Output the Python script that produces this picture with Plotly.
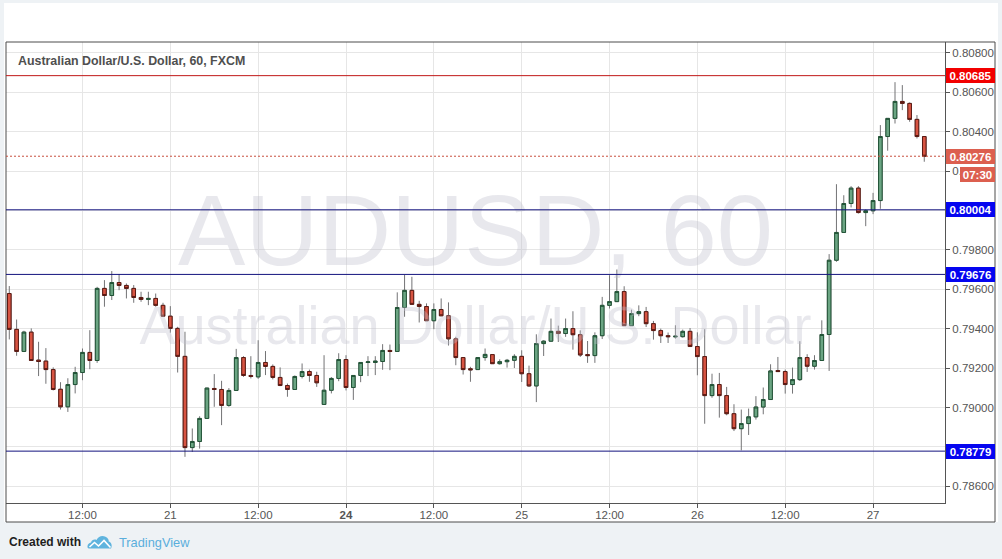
import plotly.graph_objects as go

# ---------------- data (hourly AUD/USD, FXCM) ----------------
bar_index = list(range(126))
open_ = [0.79579, 0.79397, 0.79285, 0.79383, 0.79241, 0.79236, 0.79193, 0.79093, 0.79004, 0.79117,
         0.79178, 0.79280, 0.79239, 0.79605, 0.79569, 0.79635, 0.79620, 0.79605, 0.79559, 0.79549,
         0.79554, 0.79519, 0.79464, 0.79402, 0.79260, 0.78797, 0.78828, 0.78945, 0.79097, 0.79092,
         0.79011, 0.79087, 0.79254, 0.79163, 0.79156, 0.79229, 0.79209, 0.79153, 0.79112, 0.79092,
         0.79158, 0.79183, 0.79163, 0.79016, 0.79088, 0.79148, 0.79244, 0.79102, 0.79163, 0.79229,
         0.79229, 0.79234, 0.79290, 0.79285, 0.79508, 0.79595, 0.79524, 0.79513, 0.79441, 0.79498,
         0.79466, 0.79349, 0.79254, 0.79197, 0.79193, 0.79254, 0.79269, 0.79223, 0.79233, 0.79240,
         0.79260, 0.79172, 0.79110, 0.79325, 0.79337, 0.79387, 0.79376, 0.79401, 0.79370, 0.79269,
         0.79264, 0.79365, 0.79519, 0.79538, 0.79589, 0.79416, 0.79477, 0.79487, 0.79426, 0.79391,
         0.79365, 0.79359, 0.79360, 0.79387, 0.79310, 0.79259, 0.79061, 0.79117, 0.79061, 0.78969,
         0.78893, 0.78919, 0.78953, 0.79003, 0.79041, 0.79188, 0.79183, 0.79117, 0.79142, 0.79254,
         0.79210, 0.79239, 0.79371, 0.79748, 0.79889, 0.80036, 0.80114, 0.79990, 0.79999, 0.80051,
         0.80376, 0.80468, 0.80554, 0.80544, 0.80463, 0.80376]
high = [0.79617, 0.79447, 0.79390, 0.79402, 0.79334, 0.79302, 0.79204, 0.79129, 0.79149, 0.79207,
        0.79300, 0.79393, 0.79613, 0.79647, 0.79693, 0.79678, 0.79630, 0.79622, 0.79588, 0.79588,
        0.79579, 0.79532, 0.79515, 0.79410, 0.79385, 0.78894, 0.78956, 0.79100, 0.79170, 0.79136,
        0.79099, 0.79298, 0.79261, 0.79261, 0.79342, 0.79287, 0.79219, 0.79204, 0.79122, 0.79163,
        0.79224, 0.79193, 0.79182, 0.79266, 0.79155, 0.79276, 0.79266, 0.79163, 0.79229, 0.79261,
        0.79261, 0.79322, 0.79320, 0.79585, 0.79673, 0.79664, 0.79542, 0.79529, 0.79529, 0.79554,
        0.79534, 0.79359, 0.79254, 0.79207, 0.79254, 0.79300, 0.79269, 0.79245, 0.79247, 0.79271,
        0.79291, 0.79213, 0.79372, 0.79342, 0.79452, 0.79416, 0.79452, 0.79489, 0.79392, 0.79338,
        0.79382, 0.79562, 0.79672, 0.79701, 0.79616, 0.79497, 0.79519, 0.79511, 0.79440, 0.79401,
        0.79381, 0.79418, 0.79396, 0.79404, 0.79382, 0.79398, 0.79172, 0.79176, 0.79105, 0.79017,
        0.78990, 0.78995, 0.79058, 0.79102, 0.79220, 0.79257, 0.79193, 0.79203, 0.79337, 0.79271,
        0.79266, 0.79443, 0.79779, 0.80134, 0.80078, 0.80124, 0.80124, 0.80006, 0.80090, 0.80434,
        0.80468, 0.80652, 0.80637, 0.80549, 0.80485, 0.80376]
low = [0.79346, 0.79263, 0.79282, 0.79239, 0.79160, 0.79121, 0.79087, 0.78990, 0.78978, 0.79072,
       0.79139, 0.79195, 0.79227, 0.79512, 0.79546, 0.79596, 0.79554, 0.79532, 0.79537, 0.79520,
       0.79512, 0.79461, 0.79380, 0.79178, 0.78750, 0.78775, 0.78792, 0.78944, 0.79004, 0.78911,
       0.79004, 0.79087, 0.79156, 0.79148, 0.79146, 0.79165, 0.79143, 0.79109, 0.79055, 0.79092,
       0.79148, 0.79131, 0.79105, 0.79016, 0.79072, 0.79134, 0.79087, 0.79039, 0.79129, 0.79160,
       0.79165, 0.79192, 0.79190, 0.79285, 0.79461, 0.79524, 0.79432, 0.79441, 0.79398, 0.79466,
       0.79315, 0.79215, 0.79168, 0.79131, 0.79193, 0.79238, 0.79223, 0.79218, 0.79203, 0.79201,
       0.79130, 0.79105, 0.79028, 0.79262, 0.79335, 0.79333, 0.79359, 0.79294, 0.79257, 0.79227,
       0.79227, 0.79348, 0.79503, 0.79536, 0.79416, 0.79416, 0.79464, 0.79409, 0.79345, 0.79328,
       0.79328, 0.79350, 0.79355, 0.79310, 0.79164, 0.78918, 0.79050, 0.78949, 0.78961, 0.78881,
       0.78783, 0.78861, 0.78939, 0.78966, 0.79041, 0.79183, 0.79071, 0.79071, 0.79135, 0.79181,
       0.79193, 0.79239, 0.79186, 0.79740, 0.79889, 0.80016, 0.79985, 0.79921, 0.79982, 0.80009,
       0.80304, 0.80442, 0.80510, 0.80451, 0.80366, 0.80248]
close = [0.79397, 0.79285, 0.79383, 0.79239, 0.79234, 0.79193, 0.79092, 0.79004, 0.79117, 0.79178,
         0.79280, 0.79239, 0.79605, 0.79569, 0.79635, 0.79620, 0.79605, 0.79559, 0.79549, 0.79554,
         0.79519, 0.79464, 0.79402, 0.79260, 0.78797, 0.78828, 0.78945, 0.79099, 0.79092, 0.79011,
         0.79087, 0.79254, 0.79163, 0.79158, 0.79229, 0.79209, 0.79153, 0.79112, 0.79092, 0.79158,
         0.79183, 0.79163, 0.79126, 0.79088, 0.79148, 0.79244, 0.79102, 0.79163, 0.79229, 0.79232,
         0.79236, 0.79290, 0.79285, 0.79508, 0.79595, 0.79524, 0.79513, 0.79441, 0.79498, 0.79466,
         0.79349, 0.79254, 0.79193, 0.79192, 0.79254, 0.79270, 0.79223, 0.79233, 0.79240, 0.79260,
         0.79172, 0.79110, 0.79325, 0.79337, 0.79387, 0.79376, 0.79401, 0.79370, 0.79267, 0.79264,
         0.79365, 0.79519, 0.79538, 0.79589, 0.79416, 0.79477, 0.79487, 0.79426, 0.79391, 0.79365,
         0.79360, 0.79362, 0.79387, 0.79310, 0.79259, 0.79061, 0.79117, 0.79061, 0.78969, 0.78893,
         0.78919, 0.78953, 0.79003, 0.79041, 0.79186, 0.79183, 0.79117, 0.79142, 0.79254, 0.79210,
         0.79239, 0.79371, 0.79748, 0.79889, 0.80036, 0.80114, 0.79990, 0.79999, 0.80051, 0.80376,
         0.80468, 0.80554, 0.80544, 0.80463, 0.80376, 0.80276]

tick_index = [10, 22, 34, 46, 58, 70, 82, 94, 106, 118]
tick_text = ["12:00", "21", "12:00", "<b>24</b>", "12:00", "25", "12:00", "26", "12:00", "27"]

price_ticks = [0.786, 0.788, 0.790, 0.792, 0.794, 0.796, 0.798, 0.800, 0.802, 0.804, 0.806, 0.808]
# labels hidden by the level boxes are left blank, as on the original
price_tick_text = ["0.78600", "", "0.79000", "0.79200", "0.79400", "0.79600", "0.79800", "",
                   "0.80200", "0.80400", "0.80600", "0.80800"]

resistance_levels = [0.80685]
support_levels = [0.80004, 0.79676, 0.78779]
last_price = 0.80276
countdown = "07:30"

title_text = "Australian Dollar/U.S. Dollar, 60, FXCM"
watermark_big = "AUDUSD, 60"
watermark_small = "Australian Dollar/U.S. Dollar"

# ---------------- style ----------------
W, H = 1002, 559
ML, MR, MT, MB = 6, 57, 42, 56
PW, PH = W - ML - MR, H - MT - MB
X_RANGE = [-0.45, 127.83]
Y_RANGE = [0.785157, 0.808558]

UP, DOWN = "#6ba583", "#d75442"
UP_BORDER, DOWN_BORDER = "#225437", "#5b1a13"
WICK = "#737375"
GRID = "#e6e6e6"
AXIS = "#555555"
FONT = "Liberation Sans, Arial, sans-serif"
PAGE_BG = "#eef2f5"


def px2x(px):
    return (px - ML) / PW


def py2y(py):
    return (MT + PH - py) / PH


def price_at(py):
    return Y_RANGE[1] - (py - MT) / PH * (Y_RANGE[1] - Y_RANGE[0])


fig = go.Figure()

# watermark (under the candles)
xmid = sum(X_RANGE) / 2
fig.add_trace(go.Scatter(
    x=[xmid, xmid], y=[price_at(240), price_at(330)], mode="text",
    text=[watermark_big, watermark_small], textposition="middle center",
    textfont=dict(size=[101, 54], color="rgba(190,190,205,0.36)", family=FONT),
    hoverinfo="skip", showlegend=False, cliponaxis=False))

# wicks (full range) in grey
fig.add_trace(go.Candlestick(
    x=bar_index, open=open_, high=high, low=low, close=close,
    increasing=dict(line=dict(color=WICK, width=1), fillcolor=UP),
    decreasing=dict(line=dict(color=WICK, width=1), fillcolor=DOWN),
    whiskerwidth=0, hoverinfo="skip", showlegend=False))

# bodies with dark borders
body_hi = [max(a, b) for a, b in zip(open_, close)]
body_lo = [min(a, b) for a, b in zip(open_, close)]
fig.add_trace(go.Candlestick(
    x=bar_index, open=open_, high=body_hi, low=body_lo, close=close,
    increasing=dict(line=dict(color=UP_BORDER, width=1), fillcolor=UP),
    decreasing=dict(line=dict(color=DOWN_BORDER, width=1), fillcolor=DOWN),
    whiskerwidth=0, hoverinfo="skip", showlegend=False))

shapes = []
# white card + frame
shapes.append(dict(type="rect", xref="paper", yref="paper", layer="below",
                   x0=px2x(4), x1=px2x(998), y0=py2y(522), y1=py2y(3),
                   fillcolor="white", line=dict(width=0)))
shapes.append(dict(type="rect", xref="paper", yref="paper", layer="above",
                   x0=px2x(6), x1=px2x(995), y0=py2y(522), y1=py2y(42),
                   fillcolor="rgba(0,0,0,0)", line=dict(color="#4d4d4d", width=1)))

for lv in resistance_levels:
    shapes.append(dict(type="line", xref="paper", yref="y", x0=0, x1=1, y0=lv, y1=lv,
                       line=dict(color="#c01818", width=1)))
for lv in support_levels:
    shapes.append(dict(type="line", xref="paper", yref="y", x0=0, x1=1, y0=lv, y1=lv,
                       line=dict(color="#13137e", width=1)))
shapes.append(dict(type="line", xref="paper", yref="y", x0=0, x1=1, y0=last_price, y1=last_price,
                   line=dict(color="#c8503f", width=1, dash="2px,2px")))

# TradingView logo
def path_from(cmds):
    out = []
    for c in cmds:
        if isinstance(c, str):
            out.append(c)
        else:
            out.append(f"{px2x(c[0]):.5f},{py2y(c[1]):.5f}")
    return " ".join(out)

cloud = path_from(["M", (89, 548.5), "C", (86.5, 548.5), (87, 543), (91, 542.5),
                   "C", (91.5, 540), (94.5, 539), (96.5, 540),
                   "C", (98.5, 536), (102.5, 535), (105.5, 536.8),
                   "C", (108, 538), (109, 540), (108.7, 541.5),
                   "C", (111.5, 542), (112.5, 546), (111, 548.5), "Z"])
shapes.append(dict(type="path", xref="paper", yref="paper", path=cloud,
                   fillcolor="#5fb4de", line=dict(width=0)))
zig = path_from(["M", (89.5, 547), "L", (94.5, 542.5), "L", (98.5, 546), "L", (104, 540.5), "L", (110.5, 547.5)])
shapes.append(dict(type="path", xref="paper", yref="paper", path=zig,
                   line=dict(color="white", width=1.6)))

annotations = []
annotations.append(dict(x=px2x(16), y=py2y(61), xref="paper", yref="paper", xanchor="left",
                        yanchor="middle", showarrow=False, text="<b>" + title_text + "</b>",
                        font=dict(family=FONT, size=12.4, color="#4f4f4f")))


def price_label(level, color):
    return dict(x=1, xref="paper", xanchor="left", xshift=1, y=level, yref="y", yanchor="middle",
                text=f"<b>{level:.5f}</b>", showarrow=False, bgcolor=color, borderwidth=0,
                borderpad=2, width=45, height=11, align="center",
                font=dict(color="white", size=11.5, family=FONT))


for lv in resistance_levels:
    annotations.append(price_label(lv, "#f20000"))
for lv in support_levels:
    annotations.append(price_label(lv, "#0505f0"))
annotations.append(price_label(last_price, "#dc5f4f"))
annotations.append(dict(x=1, xref="paper", xanchor="left", xshift=15, y=last_price, yref="y",
                        yshift=-18, yanchor="middle", text=f"<b>{countdown}</b>", showarrow=False,
                        bgcolor="#dc5f4f", borderwidth=0, borderpad=2, width=31, height=11,
                        align="center", font=dict(color="white", size=11.5, family=FONT)))

annotations.append(dict(x=px2x(7), y=py2y(542), xref="paper", yref="paper", xanchor="left",
                        yanchor="middle", showarrow=False, text="<b>Created with</b>",
                        font=dict(family=FONT, size=12, color="#1e1e1e")))
annotations.append(dict(x=px2x(117), y=py2y(542), xref="paper", yref="paper", xanchor="left",
                        yanchor="middle", showarrow=False, text="TradingView",
                        font=dict(family=FONT, size=12.8, color="#5aaedc")))

fig.update_layout(
    width=W, height=H, autosize=False,
    margin=dict(l=ML, r=MR, t=MT, b=MB, pad=0),
    paper_bgcolor=PAGE_BG, plot_bgcolor="white",
    showlegend=False, shapes=shapes, annotations=annotations,
    xaxis=dict(range=X_RANGE, tickmode="array", tickvals=tick_index, ticktext=tick_text,
               showgrid=True, gridcolor=GRID, gridwidth=1, zeroline=False,
               showline=True, linecolor=AXIS, linewidth=1,
               ticks="outside", ticklen=4, tickcolor=AXIS, ticklabelstandoff=-3,
               tickfont=dict(family=FONT, size=11.5, color="#555555"),
               rangeslider=dict(visible=False), fixedrange=True),
    yaxis=dict(range=Y_RANGE, side="right", tickmode="array", tickvals=price_ticks,
               ticktext=price_tick_text, showgrid=True, gridcolor=GRID, gridwidth=1, zeroline=False,
               showline=True, linecolor=AXIS, linewidth=1,
               ticks="outside", ticklen=4, tickcolor=AXIS,
               tickfont=dict(family=FONT, size=11.5, color="#555555"), fixedrange=True),
)

fig.write_html("out.html", config={"displayModeBar": False},
               post_script="document.body.style.margin='0';document.body.style.overflow='hidden';")
